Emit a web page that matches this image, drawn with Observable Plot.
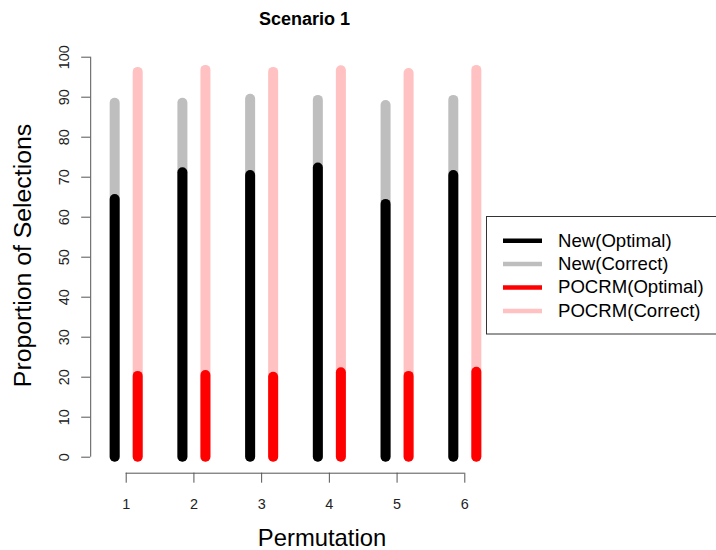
<!DOCTYPE html>
<html>
<head>
<meta charset="utf-8">
<script src="https://cdn.jsdelivr.net/npm/d3@7"></script>
<script src="https://cdn.jsdelivr.net/npm/@observablehq/plot@0.6"></script>
<style>
  html, body { margin: 0; padding: 0; background: #fff; }
  #chart { width: 716px; height: 550px; }
</style>
</head>
<body>
<div id="chart"></div>
<script>
// ---- data ----
const permutations = [1, 2, 3, 4, 5, 6];
const newOptimal   = [64.4, 71.1, 70.4, 72.3, 63.2, 70.4];
const newCorrect   = [88.5, 88.5, 89.5, 89.2, 87.9, 89.2];
const pocrmOptimal = [20.2, 20.4, 20.0, 21.1, 20.2, 21.25];
const pocrmCorrect = [96.2, 96.7, 96.2, 96.6, 95.9, 96.7];
const yTicks = [0, 10, 20, 30, 40, 50, 60, 70, 80, 90, 100];
const xTicks = permutations;
const seriesNames  = ["New(Optimal)", "New(Correct)", "POCRM(Optimal)", "POCRM(Correct)"];
const seriesColors = ["#000000", "#BEBEBE", "#FF0000", "#FFC1C1"];
const title = "Scenario 1";
const xLabel = "Permutation";
const yLabel = "Proportion of Selections";

// ---- build table ----
const offset = 0.17; // New drawn left of each permutation, POCRM right
const rows = [];
const series = [
  {name: "New(Correct)", vals: newCorrect, off: -offset},
  {name: "New(Optimal)", vals: newOptimal, off: -offset},
  {name: "POCRM(Correct)", vals: pocrmCorrect, off: offset},
  {name: "POCRM(Optimal)", vals: pocrmOptimal, off: offset}
];
for (const s of series) {
  permutations.forEach((p, i) => rows.push({series: s.name, x: p + s.off, value: s.vals[i]}));
}
const colorOf = Object.fromEntries(seriesNames.map((n, i) => [n, seriesColors[i]]));

// R-style limits: xlim c(0.7, 6.3), ylim c(0, 100), 4% expansion
const xlim = [0.7, 6.3], ylim = [0, 100];
const xDom = [xlim[0] - 0.04 * (xlim[1] - xlim[0]), xlim[1] + 0.04 * (xlim[1] - xlim[0])];
const yDom = [ylim[0] - 0.04 * (ylim[1] - ylim[0]), ylim[1] + 0.04 * (ylim[1] - ylim[0])];

const axisColor = "#555";

function legend() {
  const g = d3.create("svg:g");
  g.append("rect")
    .attr("x", 486.5).attr("y", 216.5).attr("width", 240).attr("height", 117.5)
    .attr("fill", "none").attr("stroke", "#333").attr("stroke-width", 1);
  seriesNames.forEach((n, i) => {
    const y = 240.7 + 23.4 * i;
    g.append("line")
      .attr("x1", 503).attr("x2", 542).attr("y1", y).attr("y2", y)
      .attr("stroke", seriesColors[i]).attr("stroke-width", 4.5);
    g.append("text")
      .attr("x", 558).attr("y", y + 5.8)
      .attr("text-anchor", "start")
      .attr("font-size", 18.6).attr("fill", "#000")
      .text(n);
  });
  return g.node();
}

const chart = Plot.plot({
  width: 716,
  height: 550,
  marginLeft: 90.2,
  marginRight: 216.2,
  marginTop: 40.7,
  marginBottom: 77.3,
  style: {fontFamily: "'Liberation Sans', Arial, Helvetica, sans-serif", background: "#fff"},
  x: {type: "linear", domain: xDom, axis: null},
  y: {type: "linear", domain: yDom, axis: null},
  marks: [
    // bars as thick round-capped lines
    Plot.ruleX(rows, {
      x: "x", y1: 0, y2: "value",
      stroke: d => colorOf[d.series],
      strokeWidth: 10, strokeLinecap: "round"
    }),
    // axis lines
    Plot.ruleX([xDom[0]], {y1: yTicks[0], y2: yTicks[yTicks.length - 1], stroke: axisColor}),
    Plot.ruleY([yDom[0]], {x1: xTicks[0], x2: xTicks[xTicks.length - 1], stroke: axisColor}),
    // ticks
    Plot.axisX({ticks: xTicks, tickSize: 10, tickFormat: () => "", label: null, stroke: axisColor}),
    Plot.axisY({ticks: yTicks, tickSize: 9, tickFormat: () => "", label: null, stroke: axisColor}),
    // tick labels
    Plot.text(xTicks, {x: d => d, text: d => String(d), frameAnchor: "bottom", dy: 35.6,
      lineAnchor: "bottom", fontSize: 14.4, fill: "#222"}),
    Plot.text(yTicks, {y: d => d, text: d => String(d), frameAnchor: "left", dx: -21.9,
      rotate: -90, textAnchor: "middle", lineAnchor: "bottom", fontSize: 14.4, fill: "#222"}),
    // titles
    Plot.text([title], {text: d => d, frameAnchor: "top", dx: 9, dy: -16.7,
      lineAnchor: "bottom", fontSize: 18, fontWeight: "bold", fill: "#000"}),
    Plot.text([xLabel], {text: d => d, frameAnchor: "bottom", dx: 26.5, dy: 72.5,
      lineAnchor: "bottom", fontSize: 23.8, fill: "#000"}),
    Plot.text([yLabel], {text: d => d, frameAnchor: "left", dx: -59.2, dy: -1.7,
      rotate: -90, textAnchor: "middle", lineAnchor: "bottom", fontSize: 24.8, fill: "#000"}),
    // legend
    legend
  ]
});
document.getElementById("chart").appendChild(chart);
</script>
</body>
</html>
